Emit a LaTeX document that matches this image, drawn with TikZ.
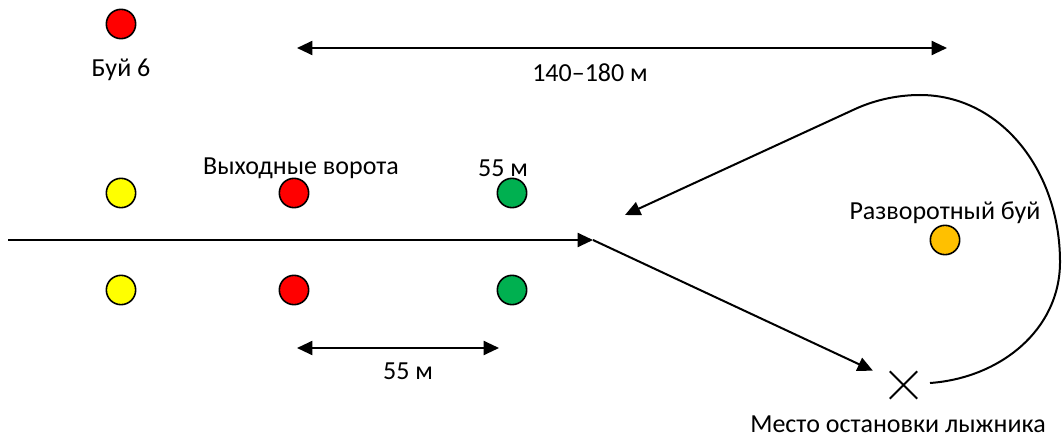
\documentclass[tikz,border=0pt]{standalone}
\usepackage{fontspec}
\setmainfont{Carlito}
\usetikzlibrary{arrows.meta,shapes.misc}
\definecolor{buoyred}{HTML}{FF0000}
\definecolor{buoyyellow}{HTML}{FFFF00}
\definecolor{buoygreen}{HTML}{00B050}
\definecolor{buoyorange}{HTML}{FFC000}
\tikzset{
  buoy/.style={circle, draw=black, line width=1.2pt, minimum size=22pt, inner sep=0pt},
  lbl/.style={inner sep=0pt, font=\fontsize{19.5pt}{23pt}\selectfont},
  arr/.style={line width=1.5pt, -{Triangle[length=11.5pt,width=10.5pt]}},
  darr/.style={line width=1.5pt, {Triangle[length=11.5pt,width=10.5pt]}-{Triangle[length=11.5pt,width=10.5pt]}},
  path/.style={line width=1.5pt},
  stopmark/.style={cross out, draw=black, line width=1.5pt, minimum size=19pt, inner sep=0pt}
}
\begin{document}
\begin{tikzpicture}[x=0.75pt,y=-0.75pt]
\useasboundingbox (0,0) rectangle (1062,445);
% buoys
\node[buoy, fill=buoyred] (b6) at (121,24) {};
\node[buoy, fill=buoyyellow] (y1) at (121,193) {};
\node[buoy, fill=buoyyellow] (y2) at (121,290) {};
\node[buoy, fill=buoyred] (r1) at (294,193) {};
\node[buoy, fill=buoyred] (r2) at (294,290) {};
\node[buoy, fill=buoygreen] (g1) at (512,193) {};
\node[buoy, fill=buoygreen] (g2) at (512,290) {};
\node[buoy, fill=buoyorange] (turn) at (945,240) {};
% labels
\node[lbl] (lb6) at (121,70) {Буй 6};
\node[lbl] (lexit) at (301,168) {Выходные ворота};
\node[lbl] (l55a) at (503,168) {55 м};
\node[lbl] (lturn) at (945,213) {Разворотный буй};
\node[lbl] (lstop) at (898,424) {Место остановки лыжника};
\node[lbl] (ltop) at (590,73) {140–180 м};
\node[lbl] (l55b) at (408,371) {55 м};
% stop mark
\node[stopmark] (stop) at (903.5,385) {};
% coordinates
\coordinate (start) at (8,240);
\coordinate (junc) at (593,240);
\coordinate (loopstart) at (853,110);
\coordinate (rettip) at (625,215);
\coordinate (looptop) at (920,95);
\coordinate (loopright) at (1060,262);
\coordinate (loopend) at (930,383);
\coordinate (t1) at (297,48);
\coordinate (t2) at (947,48);
\coordinate (d1) at (297,348);
\coordinate (d2) at (499,348);
% paths
\draw[arr] (start) -- (junc);
\draw[arr, shorten >=14pt] (junc) -- (stop);
\draw[arr] (loopstart) -- (rettip);
\draw[path] (loopstart) .. controls (872,101) and (895,95) .. (looptop)
  .. controls (1000,95) and (1060,170) .. (loopright)
  .. controls (1060,330) and (1000,378) .. (loopend);
\draw[darr] (t1) -- (t2);
\draw[darr] (d1) -- (d2);
\end{tikzpicture}
\end{document}
